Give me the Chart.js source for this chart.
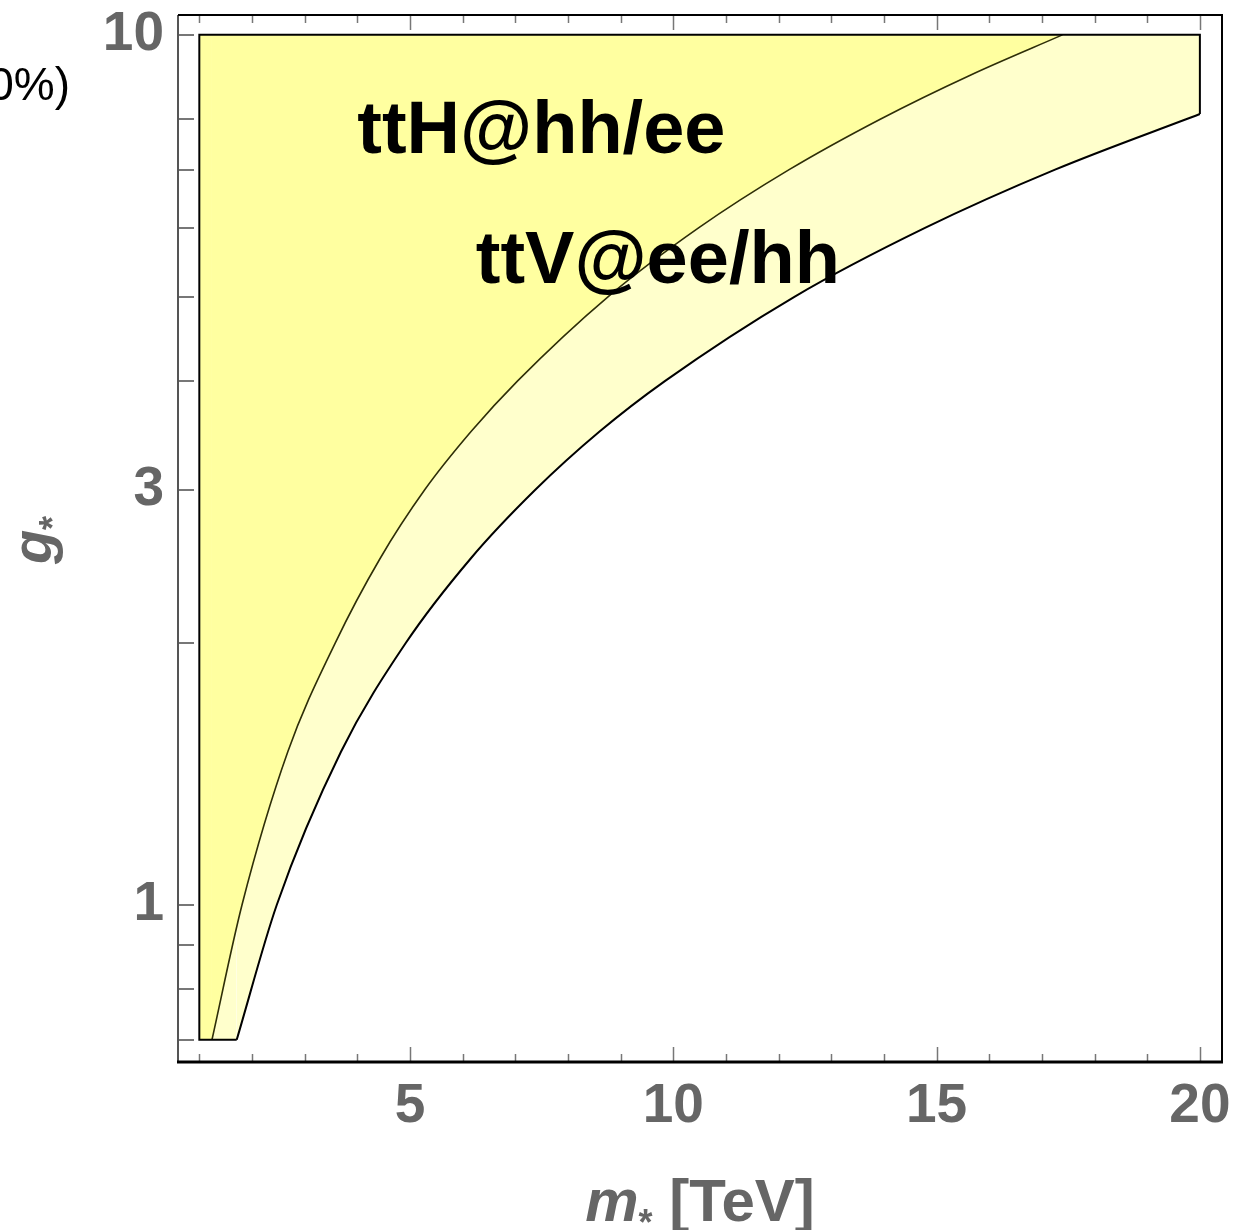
<!DOCTYPE html>
<html>
<head>
<meta charset="utf-8">
<script src="https://cdn.jsdelivr.net/npm/chart.js@4.4.1/dist/chart.umd.min.js"></script>
<style>
  html, body { margin: 0; padding: 0; background: #fff; }
  canvas { display: block; }
</style>
</head>
<body>
<canvas id="chartCanvas" width="1253" height="1230"></canvas>
<script>
// region limits (m* in TeV, g*)
const massRange = [1, 20];
const couplingRange = [0.7, 10];

// ttH@hh/ee boundary
const ttHMass = [1.24, 1.81, 2.68, 3.58, 4.43, 5.28, 6.16, 7.04, 8.76, 10.48, 12.2, 13.93, 15.66, 17.39];
const ttHCoupling = [0.7, 1.0, 1.5, 2.0, 2.5, 3.0, 3.5, 4.0, 5.0, 6.0, 7.0, 8.0, 9.0, 10];

// ttV@ee/hh boundary
const ttVMass = [1.71, 2.47, 3.69, 4.92, 6.15, 7.38, 8.6, 9.84, 12.3, 14.78, 17.25, 20];
const ttVCoupling = [0.7, 1.0, 1.5, 2.0, 2.5, 3.0, 3.5, 4.0, 5.0, 6.0, 7.0, 8.11];

// ticks
const xTickLabels = [5, 10, 15, 20];
const xMinorTicks = [1, 2, 3, 4, 6, 7, 8, 9, 11, 12, 13, 14, 16, 17, 18, 19];
const yTickLabels = [1, 3, 10];
const yMinorTicks = [0.7, 0.8, 0.9, 2, 4, 5, 6, 7, 8];

const FONT = '"Liberation Sans", Arial, Helvetica, sans-serif';
const GREY = "#666666";

const toPoints = (xs, ys) => xs.map((x, i) => ({ x, y: ys[i] }));
const ttHLine = toPoints(ttHMass, ttHCoupling);
const ttVLine = toPoints(ttVMass, ttVCoupling);

// left strip between x = 1 and the start of each curve
const ttHStrip = [
  { x: massRange[0], y: couplingRange[0] },
  { x: ttHMass[0], y: couplingRange[0] },
];
const ttVStrip = [
  { x: massRange[0], y: couplingRange[0] },
  { x: ttVMass[0], y: couplingRange[0] },
];
// straight part of the outer outline
const outerEdge = [
  { x: ttVMass[0], y: couplingRange[0] },
  { x: massRange[0], y: couplingRange[0] },
  { x: massRange[0], y: couplingRange[1] },
  { x: massRange[1], y: couplingRange[1] },
  { x: massRange[1], y: ttVCoupling[ttVCoupling.length - 1] },
];

// frame, inward ticks, titles and labels
const decorations = {
  id: "decorations",
  afterDraw(chart) {
    const ctx = chart.ctx;
    const a = chart.chartArea;
    const xs = chart.scales.x;
    const ys = chart.scales.y;
    ctx.save();

    // ticks
    ctx.strokeStyle = "#777777";
    ctx.lineWidth = 1.5;
    ctx.beginPath();
    [...xMinorTicks, ...xTickLabels].forEach((v) => {
      const px = Math.round(xs.getPixelForValue(v)) + 0.5;
      const len = xTickLabels.includes(v) ? 15 : 8;
      ctx.moveTo(px, a.bottom);
      ctx.lineTo(px, a.bottom - len);
      ctx.moveTo(px, a.top);
      ctx.lineTo(px, a.top + len);
    });
    ctx.stroke();
    ctx.lineWidth = 2;
    ctx.beginPath();
    [...yMinorTicks, ...yTickLabels].forEach((v) => {
      const py = Math.round(ys.getPixelForValue(v));
      ctx.moveTo(a.left, py);
      ctx.lineTo(a.left + 16, py);
    });
    ctx.stroke();

    // frame
    ctx.strokeStyle = "#555555";
    ctx.lineWidth = 2;
    ctx.beginPath();
    ctx.moveTo(a.left, a.top);
    ctx.lineTo(a.left, a.bottom);
    ctx.stroke();
    ctx.strokeStyle = "#000000";
    ctx.beginPath();
    ctx.moveTo(a.left, a.top);
    ctx.lineTo(a.right, a.top);
    ctx.lineTo(a.right, a.bottom);
    ctx.stroke();
    ctx.lineWidth = 3;
    ctx.beginPath();
    ctx.moveTo(a.left - 1, a.bottom);
    ctx.lineTo(a.right + 1, a.bottom);
    ctx.stroke();

    // x title: m* [TeV]
    ctx.fillStyle = GREY;
    ctx.textBaseline = "alphabetic";
    ctx.textAlign = "left";
    const mainFont = `bold 60px ${FONT}`;
    const italFont = `italic bold 60px ${FONT}`;
    const subFont = `bold 36px ${FONT}`;
    ctx.font = italFont;
    const wm = ctx.measureText("m").width;
    ctx.font = subFont;
    const ws = ctx.measureText("*").width;
    ctx.font = mainFont;
    const wr = ctx.measureText(" [TeV]").width;
    const x0 = (a.left + a.right) / 2 - (wm + ws + wr) / 2;
    const base = 1221;
    ctx.font = italFont;
    ctx.fillText("m", x0, base);
    ctx.font = subFont;
    ctx.fillText("*", x0 + wm, base + 14);
    ctx.font = mainFont;
    ctx.fillText(" [TeV]", x0 + wm + ws, base);

    // y title: g*
    ctx.save();
    ctx.translate(51, 540);
    ctx.rotate(-Math.PI / 2);
    const gFont = `italic bold 56px ${FONT}`;
    ctx.font = gFont;
    const wg = ctx.measureText("g").width;
    ctx.font = subFont;
    const wst = ctx.measureText("*").width;
    const gx = -(wg + wst) / 2;
    ctx.font = gFont;
    ctx.fillText("g", gx, 0);
    ctx.font = subFont;
    ctx.fillText("*", gx + wg, 14);
    ctx.restore();

    // region labels
    ctx.fillStyle = "#000000";
    ctx.font = `bold 74px ${FONT}`;
    ctx.fillText("ttH@hh/ee", xs.getPixelForValue(4.0), ys.getPixelForValue(7.32));
    ctx.fillText("ttV@ee/hh", xs.getPixelForValue(6.25), ys.getPixelForValue(5.19));

    // cut-off label from the neighbouring panel
    ctx.font = `46px ${FONT}`;
    ctx.textAlign = "right";
    ctx.fillText("0%)", 70, 100);

    ctx.restore();
  },
};

const curve = (data, color, width, fill) => ({
  data,
  borderColor: color,
  borderWidth: width,
  backgroundColor: fill || "rgba(0,0,0,0)",
  fill: fill ? { value: couplingRange[1] } : false,
  pointRadius: 0,
  cubicInterpolationMode: "monotone",
});

const ctx = document.getElementById("chartCanvas").getContext("2d");
new Chart(ctx, {
  type: "line",
  data: {
    datasets: [
      // drawn last (on top)
      { ...curve(outerEdge, "#000000", 2), cubicInterpolationMode: "default", tension: 0 },
      curve(ttVLine, "#000000", 2),
      curve(ttHLine, "#2e2e08", 1.6, "#ffffa0"),
      { ...curve(ttHStrip, "rgba(0,0,0,0)", 0, "#ffffa0"), cubicInterpolationMode: "default", tension: 0 },
      curve(ttVLine, "rgba(0,0,0,0)", 0, "#ffffcc"),
      { ...curve(ttVStrip, "rgba(0,0,0,0)", 0, "#ffffcc"), cubicInterpolationMode: "default", tension: 0 },
    ],
  },
  options: {
    responsive: false,
    animation: false,
    layout: { padding: { top: 15, right: 31, left: 0, bottom: 0 } },
    plugins: {
      legend: { display: false },
      tooltip: { enabled: false },
    },
    scales: {
      x: {
        type: "linear",
        min: 0.595,
        max: 20.42,
        grid: { display: false, drawTicks: false },
        border: { display: false },
        afterBuildTicks: (scale) => {
          scale.ticks = xTickLabels.map((v) => ({ value: v }));
        },
        afterFit: (scale) => {
          scale.height = 168;
          scale.paddingLeft = 0;
          scale.paddingRight = 0;
        },
        ticks: {
          padding: 17,
          color: GREY,
          font: { family: FONT, size: 55, weight: "bold", lineHeight: 1 },
          callback: (v) => String(v),
        },
      },
      y: {
        type: "logarithmic",
        min: 0.66,
        max: 10.54,
        grid: { display: false, drawTicks: false },
        border: { display: false },
        afterBuildTicks: (scale) => {
          scale.ticks = yTickLabels.map((v) => ({ value: v }));
        },
        afterFit: (scale) => {
          scale.width = 178;
          scale.paddingTop = 0;
          scale.paddingBottom = 0;
        },
        ticks: {
          padding: 14,
          color: GREY,
          font: { family: FONT, size: 55, weight: "bold", lineHeight: 1 },
          callback: (v) => String(v),
        },
      },
    },
  },
  plugins: [decorations],
});
</script>
</body>
</html>
